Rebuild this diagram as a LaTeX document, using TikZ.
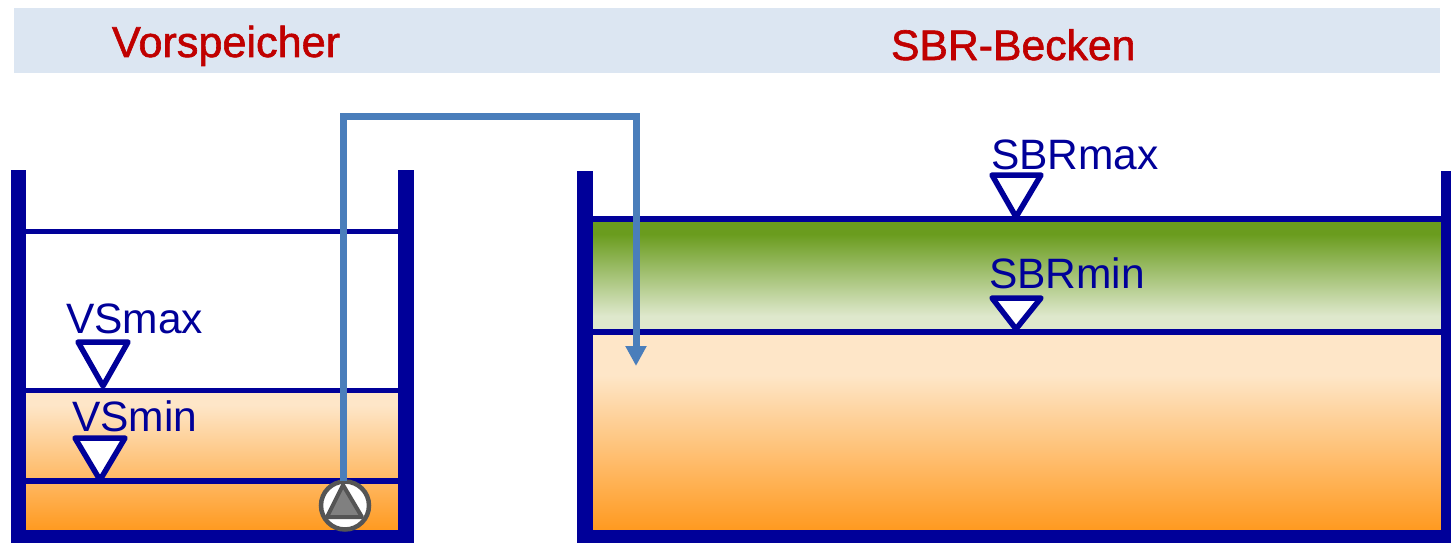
\documentclass[tikz,border=0pt]{standalone}
\usepackage{fontspec}
\setmainfont{Liberation Sans}
\usetikzlibrary{arrows.meta}
\definecolor{navy}{HTML}{000099}
\definecolor{redtxt}{HTML}{C00000}
\definecolor{headbg}{HTML}{DCE6F2}
\definecolor{pipe}{HTML}{4A7EBB}
\definecolor{pumpline}{HTML}{555555}
\definecolor{orgtop}{HTML}{FEE6C8}
\definecolor{orgbot}{HTML}{FF9A20}
\definecolor{grntop}{HTML}{6A9C1E}
\definecolor{grnbot}{HTML}{DEE8CC}
\newfontfamily\titlefont[FakeBold=1.4]{Liberation Sans}
\tikzset{
  lbl/.style={anchor=base west,inner sep=0pt,outer sep=0pt,font=\fontsize{42.5}{42.5}\selectfont,text=navy},
  ttl/.style={anchor=base west,inner sep=0pt,outer sep=0pt,font=\titlefont\fontsize{43.2}{43.2}\selectfont,text=redtxt},
  ttlb/.style={ttl,font=\titlefont\fontsize{42.7}{42.7}\selectfont},
  wall/.style={fill=navy,draw=none},
  levelline/.style={draw=navy,line width=5.5pt},
  levelmark/.style={draw=navy,line width=5.5pt,fill=white,line join=round},
  pipeline/.style={draw=pipe,line width=7pt},
  pumpc/.style={circle,draw=pumpline,line width=4.5pt,fill=white,minimum size=48pt,inner sep=0pt}
}
\begin{document}
\begin{tikzpicture}[x=1pt,y=-1pt]
\useasboundingbox (0,0) rectangle (1451,543);
% header
\fill[headbg] (14,8) rectangle (1440,73);
\node[ttl] (t1) at (112,57) {Vorspeicher};
\node[ttlb] (t2) at (891,60) {SBR-Becken};
% left tank fill
\fill[orgtop] (26,390) rectangle (399,405);
\shade[top color=orgtop,bottom color=orgbot] (26,405) rectangle (399,530);
% right tank fills
\fill[grntop] (593,219) rectangle (1442,234);
\shade[top color=grntop,bottom color=grnbot] (593,234) rectangle (1442,316);
\fill[grnbot] (593,316) rectangle (1442,332);
\fill[orgtop] (593,332) rectangle (1442,375);
\shade[top color=orgtop,bottom color=orgbot] (593,375) rectangle (1442,530);
% levels
\draw[levelline] (26,231.5) -- (399,231.5);
\draw[levelline] (26,390.5) -- (399,390.5);
\draw[levelline] (26,481) -- (399,481);
\draw[levelline] (593,219) -- (1442,219);
\draw[levelline] (593,332) -- (1442,332);
% walls
\fill[wall] (11,170) rectangle (26,543);
\fill[wall] (398,170) rectangle (414,543);
\fill[wall] (11,530) rectangle (414,543);
\fill[wall] (577,171) rectangle (593,543);
\fill[wall] (1441,171) rectangle (1451,543);
\fill[wall] (577,530) rectangle (1451,543);
% level marks
\draw[levelmark] (78,342) -- (128,342) -- (103,386) -- cycle;
\draw[levelmark] (75,438) -- (125,438) -- (100,480) -- cycle;
\draw[levelmark] (992,175) -- (1041,175) -- (1016,217) -- cycle;
\draw[levelmark] (992,298) -- (1041,298) -- (1016,329) -- cycle;
% labels
\node[lbl] (vsmax) at (66,333) {VSmax};
\node[lbl] (vsmin) at (72,431) {VSmin};
\node[lbl] (sbrmax) at (991,169) {SBRmax};
\node[lbl] (sbrmin) at (989,288) {SBRmin};
% pump and pipe
\node[pumpc] (pump) at (345,505.5) {};
\coordinate (c1) at (343,116);
\coordinate (c2) at (636,116);
\coordinate (c3) at (636,366);
\draw[pipeline,-{Triangle[length=20pt,width=20pt]}] (343,481) -- (c1) -- (c2) -- (c3);
\draw[draw=pumpline,fill=gray,line width=4pt,line join=round] (343,485) -- (362,517) -- (327,517) -- cycle;
\end{tikzpicture}
\end{document}
